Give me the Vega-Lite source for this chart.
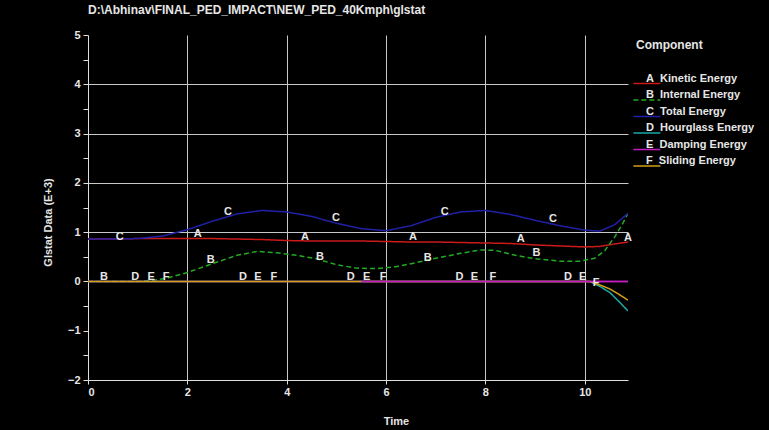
{
  "$schema": "https://vega.github.io/schema/vega-lite/v6.json",
  "width": 540,
  "height": 345,
  "autosize": "none",
  "padding": {"left": 88, "top": 35, "right": 141, "bottom": 50},
  "background": "black",
  "title": {
    "text": "D:\\Abhinav\\FINAL_PED_IMPACT\\NEW_PED_40Kmph\\glstat",
    "anchor": "start", "frame": "group", "color": "#e6e6e6",
    "font": "Liberation Sans", "fontSize": 12, "fontWeight": "bold", "offset": 12
  },
  "config": {
    "view": {"stroke": null},
    "axis": {
      "domainColor": "#e0e0e0", "tickColor": "#e0e0e0", "gridColor": "#c8c8c8",
      "labelColor": "#e6e6e6", "titleColor": "#e6e6e6",
      "labelFont": "Liberation Sans", "titleFont": "Liberation Sans",
      "labelFontSize": 11, "labelFontWeight": "bold",
      "titleFontSize": 11, "titleFontWeight": "bold"
    }
  },
  "datasets": {
    "curves": [
      {"series": "Kinetic Energy", "t": 0, "v": 0.86},
      {"series": "Kinetic Energy", "t": 0.5, "v": 0.86},
      {"series": "Kinetic Energy", "t": 1, "v": 0.87},
      {"series": "Kinetic Energy", "t": 1.5, "v": 0.87},
      {"series": "Kinetic Energy", "t": 2, "v": 0.87},
      {"series": "Kinetic Energy", "t": 2.5, "v": 0.87},
      {"series": "Kinetic Energy", "t": 3, "v": 0.86},
      {"series": "Kinetic Energy", "t": 3.5, "v": 0.85},
      {"series": "Kinetic Energy", "t": 4, "v": 0.83},
      {"series": "Kinetic Energy", "t": 4.5, "v": 0.82},
      {"series": "Kinetic Energy", "t": 5, "v": 0.82},
      {"series": "Kinetic Energy", "t": 5.5, "v": 0.82},
      {"series": "Kinetic Energy", "t": 6, "v": 0.81},
      {"series": "Kinetic Energy", "t": 6.5, "v": 0.8},
      {"series": "Kinetic Energy", "t": 7, "v": 0.8},
      {"series": "Kinetic Energy", "t": 7.5, "v": 0.79},
      {"series": "Kinetic Energy", "t": 8, "v": 0.78},
      {"series": "Kinetic Energy", "t": 8.5, "v": 0.77},
      {"series": "Kinetic Energy", "t": 9, "v": 0.74},
      {"series": "Kinetic Energy", "t": 9.5, "v": 0.72},
      {"series": "Kinetic Energy", "t": 10, "v": 0.7},
      {"series": "Kinetic Energy", "t": 10.3, "v": 0.71},
      {"series": "Kinetic Energy", "t": 10.6, "v": 0.76},
      {"series": "Kinetic Energy", "t": 10.87, "v": 0.8},

      {"series": "Internal Energy", "t": 0, "v": 0},
      {"series": "Internal Energy", "t": 1, "v": 0},
      {"series": "Internal Energy", "t": 1.3, "v": 0.02},
      {"series": "Internal Energy", "t": 1.6, "v": 0.07},
      {"series": "Internal Energy", "t": 2, "v": 0.18},
      {"series": "Internal Energy", "t": 2.5, "v": 0.36},
      {"series": "Internal Energy", "t": 3, "v": 0.53},
      {"series": "Internal Energy", "t": 3.4, "v": 0.61},
      {"series": "Internal Energy", "t": 3.8, "v": 0.58},
      {"series": "Internal Energy", "t": 4.2, "v": 0.53},
      {"series": "Internal Energy", "t": 4.6, "v": 0.46},
      {"series": "Internal Energy", "t": 5, "v": 0.34},
      {"series": "Internal Energy", "t": 5.4, "v": 0.27},
      {"series": "Internal Energy", "t": 5.8, "v": 0.26},
      {"series": "Internal Energy", "t": 6.2, "v": 0.3},
      {"series": "Internal Energy", "t": 6.6, "v": 0.38},
      {"series": "Internal Energy", "t": 7, "v": 0.47},
      {"series": "Internal Energy", "t": 7.5, "v": 0.57},
      {"series": "Internal Energy", "t": 7.9, "v": 0.64},
      {"series": "Internal Energy", "t": 8.2, "v": 0.63},
      {"series": "Internal Energy", "t": 8.6, "v": 0.53},
      {"series": "Internal Energy", "t": 9, "v": 0.46},
      {"series": "Internal Energy", "t": 9.5, "v": 0.41},
      {"series": "Internal Energy", "t": 9.9, "v": 0.41},
      {"series": "Internal Energy", "t": 10.2, "v": 0.47},
      {"series": "Internal Energy", "t": 10.4, "v": 0.62},
      {"series": "Internal Energy", "t": 10.6, "v": 0.9},
      {"series": "Internal Energy", "t": 10.75, "v": 1.15},
      {"series": "Internal Energy", "t": 10.87, "v": 1.38},

      {"series": "Total Energy", "t": 0, "v": 0.86},
      {"series": "Total Energy", "t": 0.5, "v": 0.86},
      {"series": "Total Energy", "t": 1, "v": 0.87},
      {"series": "Total Energy", "t": 1.5, "v": 0.92},
      {"series": "Total Energy", "t": 2, "v": 1.05},
      {"series": "Total Energy", "t": 2.5, "v": 1.22},
      {"series": "Total Energy", "t": 3, "v": 1.37},
      {"series": "Total Energy", "t": 3.5, "v": 1.44},
      {"series": "Total Energy", "t": 4, "v": 1.41},
      {"series": "Total Energy", "t": 4.5, "v": 1.32},
      {"series": "Total Energy", "t": 5, "v": 1.18},
      {"series": "Total Energy", "t": 5.5, "v": 1.07},
      {"series": "Total Energy", "t": 6, "v": 1.03},
      {"series": "Total Energy", "t": 6.5, "v": 1.13},
      {"series": "Total Energy", "t": 7, "v": 1.3},
      {"series": "Total Energy", "t": 7.5, "v": 1.41},
      {"series": "Total Energy", "t": 8, "v": 1.44},
      {"series": "Total Energy", "t": 8.5, "v": 1.36},
      {"series": "Total Energy", "t": 9, "v": 1.24},
      {"series": "Total Energy", "t": 9.5, "v": 1.13},
      {"series": "Total Energy", "t": 10, "v": 1.04},
      {"series": "Total Energy", "t": 10.3, "v": 1.02},
      {"series": "Total Energy", "t": 10.6, "v": 1.15},
      {"series": "Total Energy", "t": 10.87, "v": 1.38},

      {"series": "Hourglass Energy", "t": 0, "v": 0},
      {"series": "Hourglass Energy", "t": 10.1, "v": 0},
      {"series": "Hourglass Energy", "t": 10.3, "v": -0.1},
      {"series": "Hourglass Energy", "t": 10.5, "v": -0.22},
      {"series": "Hourglass Energy", "t": 10.7, "v": -0.42},
      {"series": "Hourglass Energy", "t": 10.87, "v": -0.6},

      {"series": "Damping Energy", "t": 0, "v": 0},
      {"series": "Damping Energy", "t": 5.5, "v": 0},
      {"series": "Damping Energy", "t": 10.87, "v": 0},

      {"series": "Sliding Energy", "t": 0, "v": 0},
      {"series": "Sliding Energy", "t": 10.1, "v": 0},
      {"series": "Sliding Energy", "t": 10.3, "v": -0.07},
      {"series": "Sliding Energy", "t": 10.5, "v": -0.15},
      {"series": "Sliding Energy", "t": 10.7, "v": -0.27},
      {"series": "Sliding Energy", "t": 10.87, "v": -0.38}
    ],
    "letters": [
      {"letter": "B", "t": 0.32, "v": 0.08}, {"letter": "B", "t": 2.47, "v": 0.43}, {"letter": "B", "t": 4.67, "v": 0.49}, {"letter": "B", "t": 6.84, "v": 0.47}, {"letter": "B", "t": 9.03, "v": 0.57},
      {"letter": "C", "t": 0.64, "v": 0.91}, {"letter": "C", "t": 2.82, "v": 1.4}, {"letter": "C", "t": 4.99, "v": 1.28}, {"letter": "C", "t": 7.18, "v": 1.4}, {"letter": "C", "t": 9.36, "v": 1.26},
      {"letter": "A", "t": 2.21, "v": 0.97}, {"letter": "A", "t": 4.37, "v": 0.91}, {"letter": "A", "t": 6.54, "v": 0.91}, {"letter": "A", "t": 8.71, "v": 0.87}, {"letter": "A", "t": 10.87, "v": 0.89},
      {"letter": "D", "t": 0.95, "v": 0.08}, {"letter": "D", "t": 3.12, "v": 0.08}, {"letter": "D", "t": 5.29, "v": 0.08}, {"letter": "D", "t": 7.48, "v": 0.08}, {"letter": "D", "t": 9.66, "v": 0.08},
      {"letter": "E", "t": 1.27, "v": 0.08}, {"letter": "E", "t": 3.42, "v": 0.08}, {"letter": "E", "t": 5.61, "v": 0.08}, {"letter": "E", "t": 7.78, "v": 0.08}, {"letter": "E", "t": 9.96, "v": 0.08},
      {"letter": "F", "t": 1.57, "v": 0.08}, {"letter": "F", "t": 3.74, "v": 0.08}, {"letter": "F", "t": 5.94, "v": 0.08}, {"letter": "F", "t": 8.15, "v": 0.08}, {"letter": "F", "t": 10.23, "v": -0.04}
    ]
  },
  "encoding": {
    "x": {
      "field": "t", "type": "quantitative",
      "scale": {"domain": [0, 10.87], "nice": false, "zero": false},
      "axis": {
        "title": "Time",
        "values": [0, 1, 2, 3, 4, 5, 6, 7, 8, 9, 10, 10.87],
        "format": "d",
        "labelExpr": "datum.value % 2 == 0 ? datum.label : ''",
        "grid": true,
        "gridOpacity": {"condition": {"test": "datum.value > 0 && (datum.value % 2 == 0 || datum.value > 10.5)", "value": 1}, "value": 0},
        "tickOpacity": {"condition": {"test": "datum.value < 10.5", "value": 1}, "value": 0},
        "tickSize": 4, "labelPadding": 2,
        "titleX": 308, "titleY": 41, "titleBaseline": "middle", "titleAlign": "center"
      }
    },
    "y": {
      "field": "v", "type": "quantitative",
      "scale": {"domain": [-2, 5], "nice": false},
      "axis": {
        "title": "Glstat Data (E+3)",
        "values": [-2, -1.5, -1, -0.5, 0, 0.5, 1, 1.5, 2, 2.5, 3, 3.5, 4, 4.5, 5],
        "format": "~g",
        "labelExpr": "datum.value % 1 == 0 ? datum.label : ''",
        "grid": true,
        "gridOpacity": {"condition": {"test": "datum.value >= 1 && datum.value <= 4 && datum.value % 1 == 0", "value": 1}, "value": 0},
        "tickSize": 5, "labelPadding": 3,
        "titleX": -40, "titleY": 187, "titleAngle": -90, "titleBaseline": "middle", "titleAlign": "center"
      }
    }
  },
  "layer": [
    {
      "data": {"name": "curves"},
      "mark": {"type": "line", "strokeWidth": 1.5, "clip": true},
      "encoding": {
        "color": {
          "field": "series", "type": "nominal",
          "scale": {
            "domain": ["Kinetic Energy", "Internal Energy", "Total Energy", "Hourglass Energy", "Damping Energy", "Sliding Energy"],
            "range": ["#cc1a1a", "#22aa22", "#2020a8", "#1aa8a8", "#c21ec2", "#d4a017"]
          },
          "legend": {
            "title": "Component", "orient": "none", "legendX": 548, "legendY": 5,
            "padding": 0, "titleColor": "#e6e6e6", "titleFont": "Liberation Sans",
            "titleFontSize": 12, "titleFontWeight": "bold", "titlePadding": 19,
            "labelColor": "#e6e6e6", "labelFont": "Liberation Sans", "labelFontSize": 11,
            "labelFontWeight": "bold", "labelOffset": -5,
            "labelExpr": "(datum.label == 'Kinetic Energy' ? 'A' : datum.label == 'Internal Energy' ? 'B' : datum.label == 'Total Energy' ? 'C' : datum.label == 'Hourglass Energy' ? 'D' : datum.label == 'Damping Energy' ? 'E' : 'F') + '\u00a0\u00a0' + datum.label",
            "symbolType": "M-1.5,0.75H2.5", "symbolSize": 182, "symbolStrokeWidth": 1.5,
            "rowPadding": 0.5
          }
        },
        "strokeDash": {
          "field": "series", "type": "nominal",
          "scale": {
            "domain": ["Kinetic Energy", "Internal Energy", "Total Energy", "Hourglass Energy", "Damping Energy", "Sliding Energy"],
            "range": [[1, 0], [5, 3], [1, 0], [1, 0], [1, 0], [1, 0]]
          },
          "legend": null
        }
      }
    },
    {
      "data": {"name": "curves"},
      "transform": [{"filter": "datum.series == 'Damping Energy' && datum.t >= 5.5"}],
      "mark": {"type": "line", "strokeWidth": 1.5, "clip": true},
      "encoding": {
        "color": {"field": "series", "type": "nominal"}
      }
    },
    {
      "data": {"name": "letters"},
      "mark": {"type": "text", "color": "#e6e6e6", "font": "Liberation Sans", "fontSize": 11, "fontWeight": "bold", "baseline": "middle", "align": "center"},
      "encoding": {
        "text": {"field": "letter"}
      }
    }
  ]
}
